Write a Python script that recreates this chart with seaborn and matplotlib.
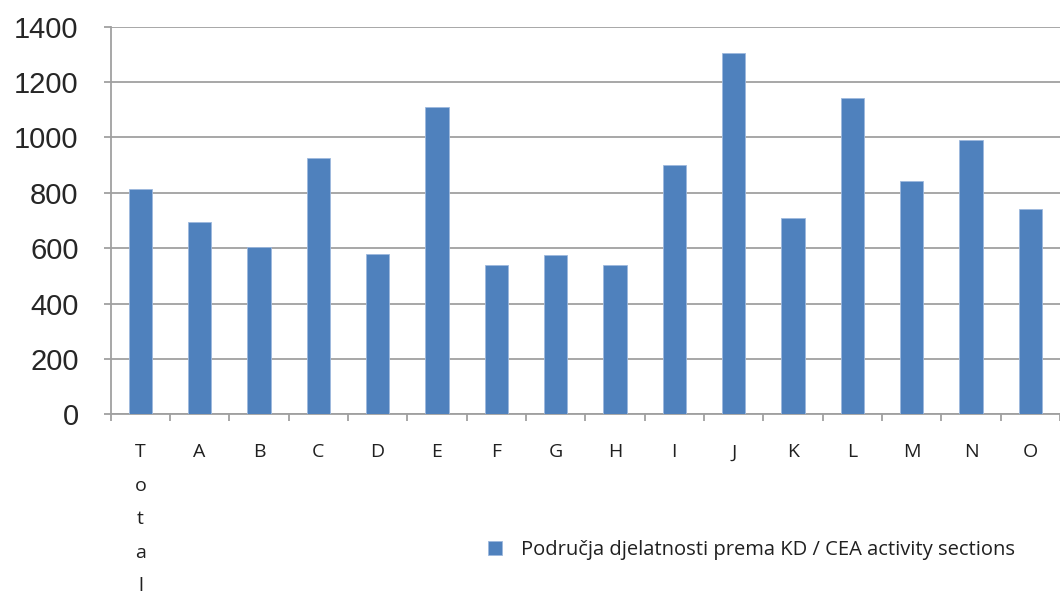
import pandas as pd
import matplotlib
matplotlib.use("Agg")
import matplotlib.pyplot as plt
import seaborn as sns

# Values
categories = ["Total", "A", "B", "C", "D", "E", "F", "G", "H",
              "I", "J", "K", "L", "M", "N", "O"]
values = [813, 695, 605, 927, 580, 1110, 540, 574, 541,
          900, 1304, 709, 1143, 844, 990, 742]
tick_labels = ["T\no\nt\na\nl"] + categories[1:]
series_name = "Područja djelatnosti prema KD / CEA activity sections"

df = pd.DataFrame({"section": categories, "value": values})

sns.set_style("white")
plt.rcParams["font.family"] = ["Open Sans", "DejaVu Sans"]

fig = plt.figure(figsize=(10.6, 5.94), dpi=100)
ax = fig.add_axes([0.1044, 0.3025, 0.8956, 0.6525])

grid_col = "#A0A0A0"
sns.barplot(data=df, x="section", y="value", color="#4F81BD", saturation=1,
            width=0.39, edgecolor="#9DB9DE", linewidth=0.6, label=series_name,
            ax=ax, zorder=3)

ax.set_ylim(0, 1400)
ax.set_xlim(-0.5, len(categories) - 0.5)
ax.set_yticks(range(0, 1401, 200))
ax.yaxis.grid(True, color=grid_col, linewidth=1.3, zorder=0)
ax.set_axisbelow(True)

for side in ["top", "right"]:
    ax.spines[side].set_visible(False)
for side in ["left", "bottom"]:
    ax.spines[side].set_color(grid_col)
    ax.spines[side].set_linewidth(1.3)

ax.set_xlabel("")
ax.set_ylabel("")

# y tick labels
ax.tick_params(axis="y", length=5, width=1.3, color=grid_col, pad=18,
               labelsize=21, left=True)
for lbl in ax.get_yticklabels():
    lbl.set_fontfamily(["Liberation Sans", "DejaVu Sans"])

# x category labels, ticks drawn between categories
ax.set_xticks(range(len(categories)))
ax.set_xticklabels(tick_labels, fontsize=14, linespacing=2.1,
                   va="top", color="#202020")
ax.tick_params(axis="x", which="major", length=0, pad=21)
ax.set_xticks([i - 0.5 for i in range(len(categories) + 1)], minor=True)
ax.tick_params(axis="x", which="minor", length=5, width=1.3,
               color=grid_col, bottom=True)

leg = ax.legend(loc="center left", bbox_to_anchor=(0.4435, 0.074),
                bbox_transform=fig.transFigure, frameon=False,
                fontsize=14.5, handlelength=0.7, handleheight=0.7,
                handletextpad=0.95)
for t in leg.get_texts():
    t.set_color("#202020")

plt.savefig("out.png", dpi=100)
